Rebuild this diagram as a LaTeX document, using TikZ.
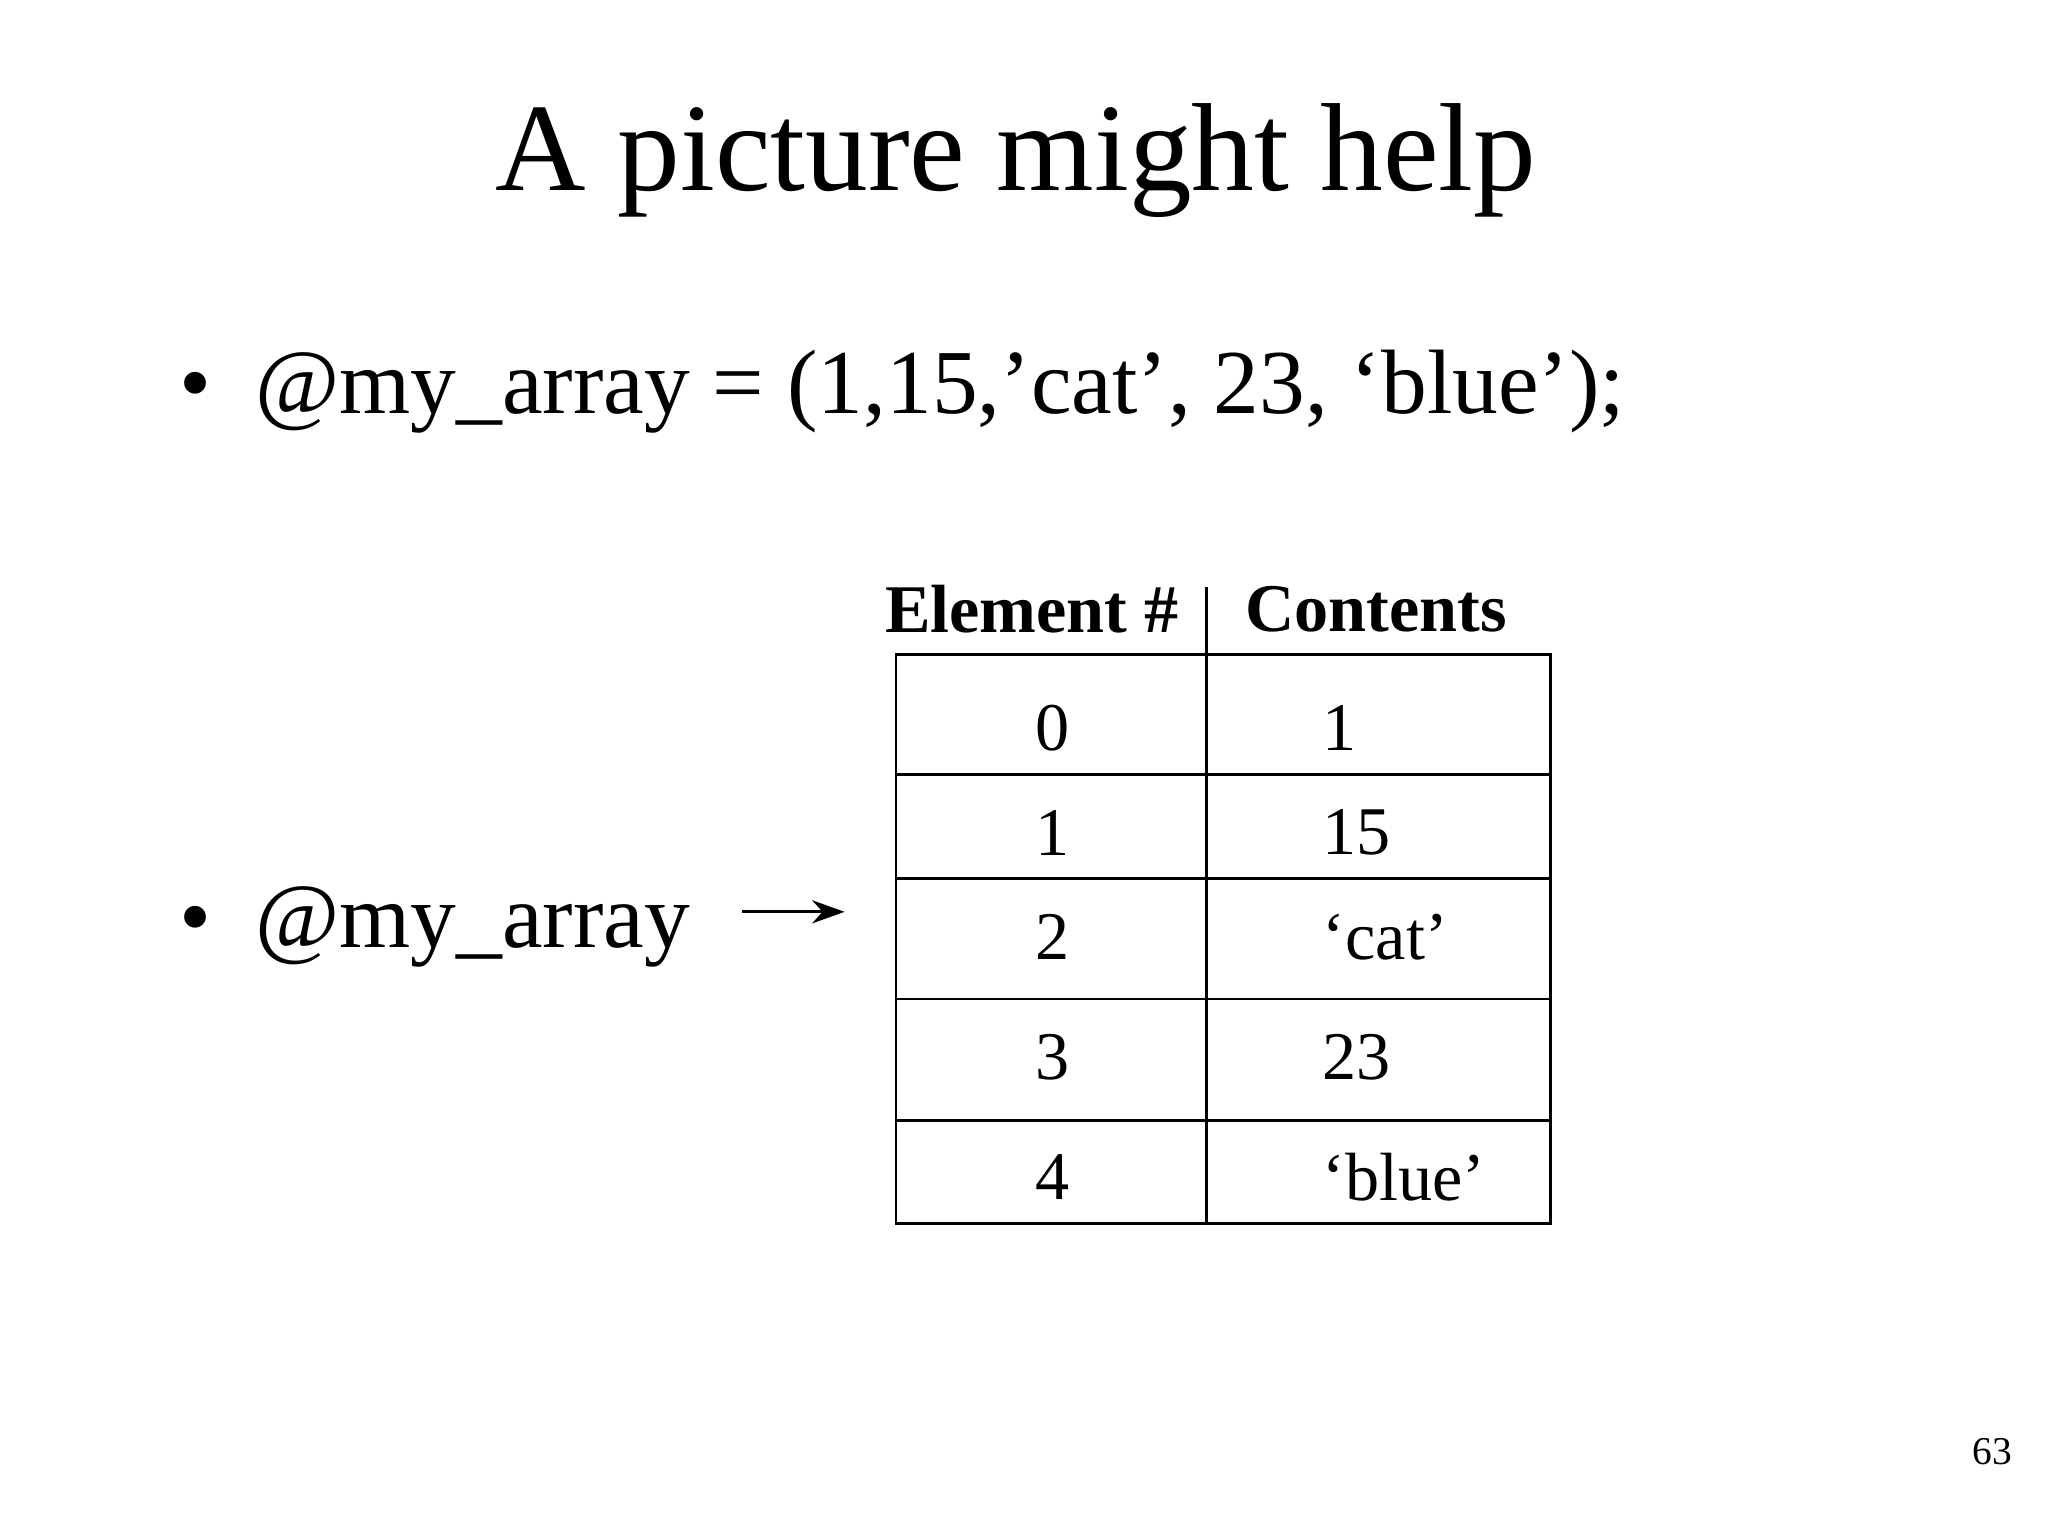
\documentclass[tikz,border=0pt]{standalone}
\usepackage{fontspec}
\setmainfont{Liberation Serif}
\usetikzlibrary{arrows.meta}
\begin{document}
\begin{tikzpicture}[x=0.01cm,y=-0.01cm,
  cell/.style={font=\fontsize{14.7}{18}\selectfont},
  hdr/.style={font=\fontsize{14.7}{18}\selectfont\bfseries},
  bul/.style={font=\fontsize{19.7}{24}\selectfont, anchor=base west, inner sep=0pt},
  tline/.style={line width=0.6pt}]
\useasboundingbox (0,0) rectangle (1552,1164);
\node (title) at (770,122) {\fontsize{27}{32}\selectfont A picture might help};
\node[bul] (d1) at (135,313) {•};
\node[bul] (l1) at (193,313) {@my\_array = (1,15,’cat’, 23, ‘blue’);};
\node[bul] (d2) at (135,718) {•};
\node[bul] (l2) at (193,718) {@my\_array};
\coordinate (as) at (562,691);
\coordinate (ae) at (640,691);
\draw[tline,-{Stealth[length=7pt,width=5pt]}] (as) -- (ae);
\draw[tline] (679,496) rectangle (1175,927);
\draw[tline] (914,445) -- (914,927);
\foreach \y in {587,666,757,849} \draw[tline] (679,\y) -- (1175,\y);
\node[hdr] (h1) at (782,462) {Element \#};
\node[hdr] (h2) at (1043,462) {Contents};
\foreach \i/\y/\c in {0/552/1,1/631/15,2/710/‘cat’,3/801/23,4/892/‘blue’}{
  \node[cell] (n\i) at (798,\y) {\i};
  \node[cell,anchor=west] (c\i) at (990,\y) {\c};
}
\node (pg) at (1510,1100) {\fontsize{8.5}{10}\selectfont 63};
\end{tikzpicture}
\end{document}
